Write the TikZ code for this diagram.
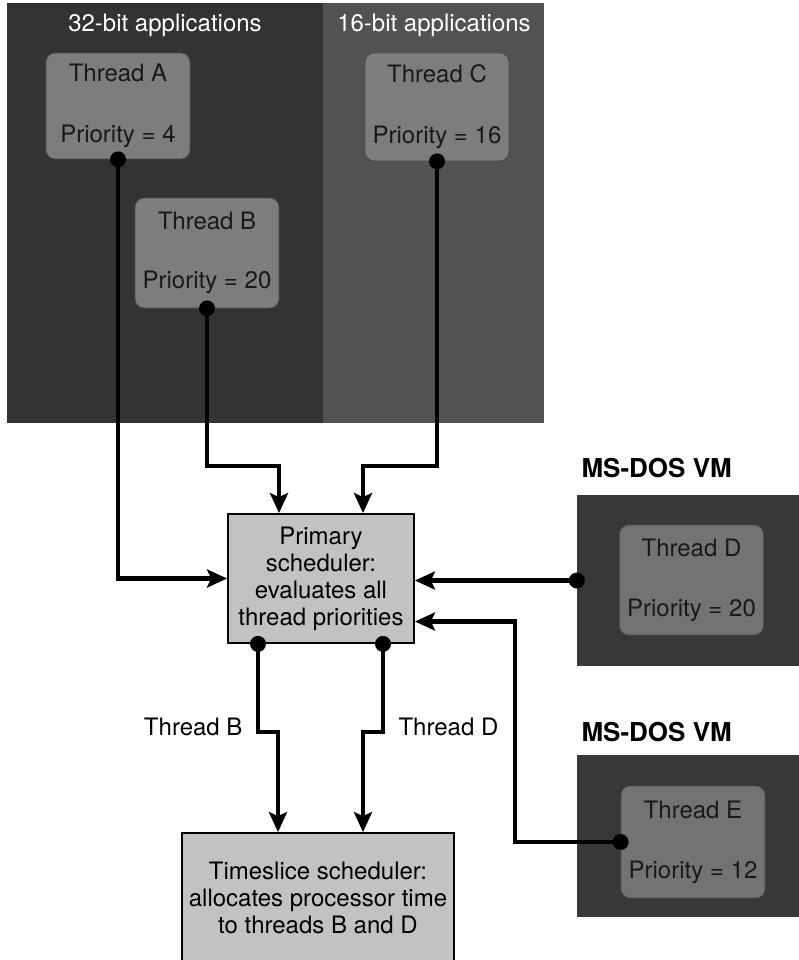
\documentclass[tikz,border=0pt]{standalone}
\usepackage{fontspec}
\setmainfont{TeX Gyre Heros}
\usetikzlibrary{arrows.meta,calc,positioning}
\definecolor{darkpanel}{gray}{0.20}
\definecolor{midpanel}{gray}{0.32}
\definecolor{threadfill}{gray}{0.49}
\definecolor{vmfill}{gray}{0.22}
\definecolor{vmthread}{gray}{0.45}
\definecolor{schedfill}{gray}{0.76}
\tikzset{
    x=1pt, y=-1pt,
    conn/.style={line width=4.5pt, -{Stealth[length=20pt,width=18pt,inset=4pt]}},
    txt/.style={font=\fontsize{24}{27}\selectfont},
    panel/.style={rectangle, inner sep=0pt, minimum height=420pt},
    thread/.style={txt, rectangle, rounded corners=9pt, fill=threadfill, draw=black!70, line width=0.8pt,
        align=center, inner sep=0pt, minimum width=144pt, text=black!90},
    vm/.style={rectangle, fill=vmfill, inner sep=0pt, minimum width=223pt},
    sched/.style={txt, rectangle, fill=schedfill, draw=black, line width=1.8pt, align=center, inner sep=0pt},
    hdr/.style={txt, text=white},
    vmlbl/.style={font=\fontsize{26}{28}\bfseries, anchor=west}
}
\begin{document}
\begin{tikzpicture}
    \useasboundingbox (0,0) rectangle (798,960);
    \node[panel, fill=darkpanel, minimum width=316pt] (p32) at (165,213) {};
    \node[panel, fill=midpanel, minimum width=221pt] (p16) at (433.5,213) {};
    \node[hdr] (h32) at (165,25) {32-bit applications};
    \node[hdr] (h16) at (434,25) {16-bit applications};

    \node[thread, minimum height=106pt] (ta) at (118,106) {Thread A\\[34pt]Priority = 4};
    \node[thread, minimum height=110pt] (tb) at (207,253) {Thread B\\[32pt]Priority = 20};
    \node[thread, minimum height=108pt] (tc) at (437,107) {Thread C\\[34pt]Priority = 16};

    \node[sched, minimum width=186pt, minimum height=129pt] (prim) at (321,578.5)
        {Primary\\scheduler:\\evaluates all\\thread priorities};
    \node[sched, minimum width=272pt, minimum height=130pt] (slice) at (318,898)
        {Timeslice scheduler:\\allocates processor time\\to threads B and D};

    \node[vmlbl] (l1) at (578,468) {MS-DOS VM};
    \node[vm, minimum height=171pt] (vmd) at (688.5,580.5) {};
    \node[thread, fill=vmthread, minimum height=110pt] (td) at (691.5,580) {Thread D\\[33pt]Priority = 20};
    \node[vmlbl] (l2) at (578,732) {MS-DOS VM};
    \node[vm, minimum height=162pt] (vme) at (688.5,836) {};
    \node[thread, fill=vmthread, minimum height=112pt] (te) at (693,842) {Thread E\\[33pt]Priority = 12};

    \draw[conn] (ta.south) |- (prim.west);
    \draw[conn] (tb.south) |- ($(prim.north)+(-42,-47)$) -- ($(prim.north)+(-42,0)$);
    \draw[conn] (tc.south) |- ($(prim.north)+(42,-47)$) -- ($(prim.north)+(42,0)$);
    \draw[conn] (vmd.west) -- (vmd.west -| prim.east);
    \draw[conn] (te.west) -| ($(prim.east)+(100,43)$) -- ($(prim.east)+(0,43)$);
    \draw[conn] ($(prim.south)+(-63,0)$) |- ($(slice.north)+(-40,-100)$) -- ($(slice.north)+(-40,0)$);
    \draw[conn] ($(prim.south)+(62,0)$) |- ($(slice.north)+(45,-100)$) -- ($(slice.north)+(45,0)$);

    \foreach \p in {ta.south, tb.south, tc.south, vmd.west, te.west}
        \fill (\p) circle (8pt);
    \fill ($(prim.south)+(-63,0)$) circle (8pt);
    \fill ($(prim.south)+(62,0)$) circle (8pt);

    \node[txt, anchor=east] (lb) at (246,727) {Thread B};
    \node[txt, anchor=west] (ld) at (395,727) {Thread D};
\end{tikzpicture}
\end{document}
